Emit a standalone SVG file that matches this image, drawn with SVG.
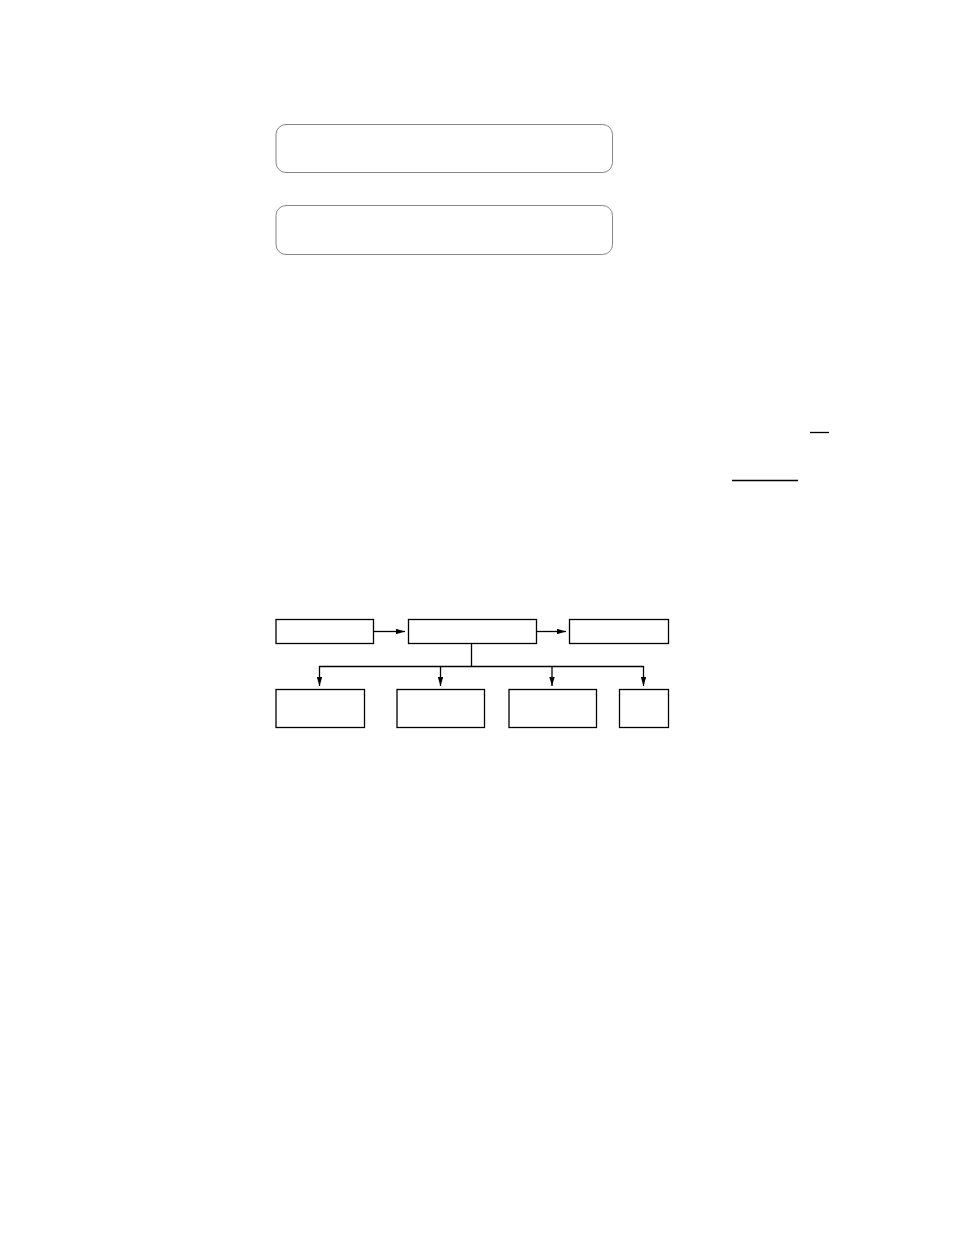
<svg xmlns="http://www.w3.org/2000/svg" width="954" height="1235" viewBox="0 0 954 1235">
<style>
.rr{fill:none;stroke:#777;stroke-width:0.9}
.bx{fill:#fff;stroke:#000;stroke-width:1.3}
.ln{fill:none;stroke:#000;stroke-width:1.3}
</style>
<defs>
<marker id="ah" viewBox="0 0 10 6" refX="10" refY="3" markerWidth="9" markerHeight="5.5" markerUnits="userSpaceOnUse" orient="auto">
<path d="M0,0 L10,3 L0,6 Z" fill="#000"/>
</marker>
</defs>
<rect width="954" height="1235" fill="#fff"/>
<g id="panel1"><rect class="rr" x="276" y="124.5" width="336.5" height="48" rx="10"/></g>
<g id="panel2"><rect class="rr" x="276" y="205.5" width="336.5" height="49" rx="10"/></g>
<g id="rule1"><line class="ln" x1="810" y1="432.5" x2="829" y2="432.5"/></g>
<g id="rule2"><line class="ln" x1="732" y1="480.5" x2="798" y2="480.5"/></g>
<g id="n1"><rect class="bx" x="276" y="619.5" width="97.5" height="24"/></g>
<g id="n2"><rect class="bx" x="408.5" y="619.5" width="128" height="24"/></g>
<g id="n3"><rect class="bx" x="569.5" y="619.5" width="99" height="24"/></g>
<g id="n4"><rect class="bx" x="276" y="689.5" width="88.5" height="38"/></g>
<g id="n5"><rect class="bx" x="397" y="689.5" width="87.5" height="38"/></g>
<g id="n6"><rect class="bx" x="509" y="689.5" width="87.5" height="38"/></g>
<g id="n7"><rect class="bx" x="619.5" y="689.5" width="49" height="38"/></g>
<g id="connectors">
<line class="ln" x1="373.5" y1="631.5" x2="405" y2="631.5" marker-end="url(#ah)"/>
<line class="ln" x1="536.5" y1="631.5" x2="566" y2="631.5" marker-end="url(#ah)"/>
<polyline class="ln" points="471.5,643.5 471.5,666.5"/>
<line class="ln" x1="319" y1="666.5" x2="643.5" y2="666.5"/>
<line class="ln" x1="319.5" y1="666" x2="319.5" y2="686" marker-end="url(#ah)"/>
<line class="ln" x1="440.5" y1="666" x2="440.5" y2="686" marker-end="url(#ah)"/>
<line class="ln" x1="552" y1="666" x2="552" y2="686" marker-end="url(#ah)"/>
<line class="ln" x1="643.5" y1="666" x2="643.5" y2="686" marker-end="url(#ah)"/>
</g>
</svg>
